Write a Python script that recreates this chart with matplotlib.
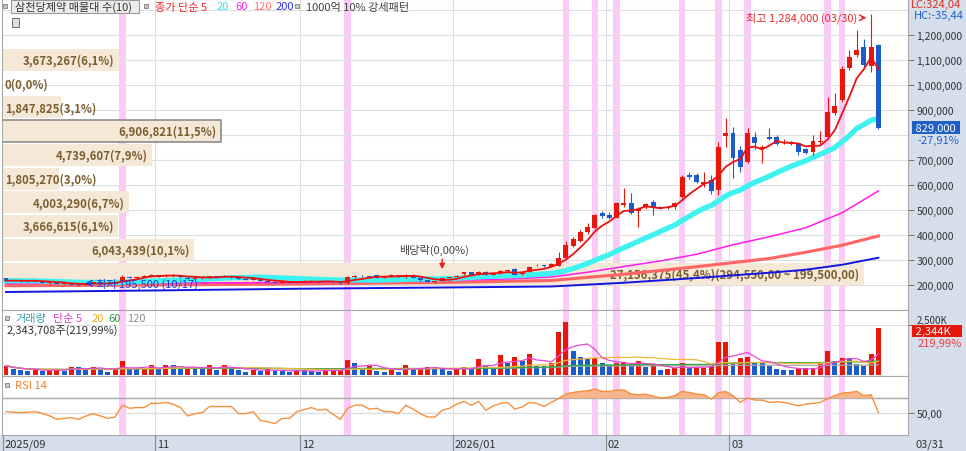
import matplotlib
matplotlib.use("Agg")
import matplotlib.pyplot as plt
from matplotlib.patches import Rectangle
from matplotlib.ticker import FuncFormatter
import numpy as np
import pandas as pd

plt.rcParams['font.family'] = ['Noto Sans CJK KR', 'DejaVu Sans']
plt.rcParams['axes.unicode_minus'] = False

# daily candles, thousand won (2025/09/26 .. 2026/03/31)
open_k = [226, 219, 218, 217, 214, 216, 207, 209, 204, 206,
          201, 199.5, 205, 210, 207, 205, 210, 233, 229, 233,
          235, 239, 234, 240, 236, 229, 224, 228, 230, 234,
          231, 236, 230, 224, 221, 224, 216, 212, 209, 212,
          208, 213, 216, 214, 211, 213, 210, 206, 231, 236,
          234, 238, 228, 232, 236, 230, 240, 227, 219, 211,
          216, 228, 232, 243, 251, 240, 252, 241, 247, 256,
          263, 243, 253, 281, 279, 273, 276, 308, 355, 377,
          410, 428, 488, 480, 468, 518, 527, 494, 513, 533,
          513, 507, 510, 550, 640, 640, 605, 620, 580, 795,
          807, 740, 693, 791, 745, 791, 791, 768, 764, 767,
          743, 733, 770, 790, 887, 940, 1067, 1120, 1150, 1075,
          1160]
high_k = [229, 221, 220, 219, 219, 217, 211, 210, 208, 207,
          203, 206, 212, 213, 210, 211, 238, 237, 236, 238,
          242, 241, 242, 243, 238, 232, 230, 232, 236, 236,
          238, 237, 231, 226, 226, 225, 218, 214, 214, 213,
          215, 218, 218, 215, 216, 215, 212, 234, 240, 238,
          236, 241, 234, 244, 240, 242, 242, 229, 221, 215,
          229, 233, 238, 253, 253, 255, 254, 246, 259, 260,
          266, 252, 276, 284, 281, 286, 330, 376, 390, 418,
          448, 485, 496, 492, 532, 588, 568, 510, 526, 540,
          516, 515, 532, 640, 652, 648, 653, 640, 770, 867,
          830, 755, 828, 810, 760, 828, 800, 785, 775, 770,
          748, 800, 815, 953, 968, 1075, 1140, 1220, 1183, 1284,
          1165]
low_k = [214, 214, 213, 212, 211, 208, 203, 203, 202, 199,
         195.5, 198, 203, 205, 203, 204, 208, 226, 227, 230,
         232, 232, 232, 233, 228, 222, 222, 224, 228, 229,
         230, 228, 222, 219, 219, 214, 210, 207, 207, 206,
         207, 211, 212, 209, 210, 209, 204, 205, 228, 232,
         230, 226, 226, 230, 233, 228, 226, 216, 210, 209,
         215, 226, 230, 241, 238, 239, 238, 238, 245, 253,
         238, 241, 251, 276, 272, 271, 274, 305, 350, 372,
         405, 425, 468, 465, 466, 512, 485, 433, 505, 480,
         505, 503, 505, 546, 625, 608, 590, 565, 560, 753,
         628, 650, 688, 745, 689, 780, 760, 762, 758, 720,
         725, 720, 765, 785, 880, 930, 1060, 1110, 1070, 1053,
         823]
close_k = [216, 217, 215, 214, 217, 209, 209, 204, 206, 201,
           199.5, 205, 210, 207, 205, 210, 233, 229, 233, 235,
           239, 234, 240, 236, 230, 224, 228, 230, 234, 231,
           236, 230, 224, 221, 224, 216, 212, 209, 212, 208,
           213, 216, 214, 211, 214, 210, 206, 231, 236, 234,
           232, 228, 232, 239, 238, 240, 228, 218, 212, 213,
           226, 231, 236, 251, 241, 253, 241, 244, 257, 258,
           241, 249, 273, 278, 276, 283, 308, 358, 385, 412,
           430, 480, 474, 469, 527, 527, 489, 503, 522, 508,
           508, 512, 528, 633, 632, 613, 612, 575, 753, 807,
           707, 673, 807, 767, 753, 783, 764, 773, 769, 733,
           729, 775, 776, 893, 916, 1063, 1113, 1140, 1080, 1150,
           829]
volume_k = [466, 299, 249, 183, 266, 216, 266, 299, 216, 416,
            382, 249, 416, 299, 166, 333, 682, 299, 290, 305,
            516, 299, 499, 490, 299, 349, 340, 335, 516, 249,
            516, 283, 266, 166, 266, 216, 299, 216, 183, 133,
            249, 240, 216, 166, 249, 255, 266, 748, 615, 349,
            466, 216, 166, 333, 166, 516, 299, 305, 416, 333,
            283, 216, 299, 416, 333, 782, 516, 333, 998, 599,
            915, 715, 1048, 466, 460, 582, 2162, 2661, 1214, 881,
            798, 848, 582, 499, 582, 632, 549, 715, 382, 499,
            249, 299, 333, 599, 333, 340, 349, 466, 1630, 1640,
            632, 832, 881, 582, 575, 466, 299, 266, 260, 333,
            340, 345, 549, 1181, 715, 832, 825, 549, 466, 1065.37,
            2343.708]
rsi14 = [51.4, 50.5, 50.0, 50.5, 51.4, 49.0, 45.5, 40.5, 42.0, 42.9,
         40.5, 45.2, 48.6, 45.2, 41.9, 43.8, 60.4, 56.1, 57.1, 57.1,
         63.3, 62.9, 64.3, 61.9, 57.1, 45.2, 48.6, 50.0, 58.6, 58.6,
         58.6, 58.6, 48.6, 48.6, 51.4, 39.0, 37.1, 34.7, 41.9, 41.9,
         51.4, 54.3, 57.1, 53.3, 54.8, 47.6, 40.5, 56.1, 60.4, 60.4,
         54.8, 56.1, 51.4, 51.4, 48.6, 60.4, 54.8, 48.6, 43.8, 43.8,
         53.3, 56.1, 61.9, 65.7, 60.4, 65.7, 53.3, 59.5, 62.9, 64.3,
         54.8, 58.1, 64.3, 62.9, 58.6, 64.3, 69.8, 76.0, 78.3, 79.8,
         80.7, 83.1, 79.8, 79.8, 81.7, 81.7, 76.0, 75.2, 76.0, 73.3,
         70.5, 71.4, 73.8, 79.8, 78.3, 76.0, 75.2, 69.0, 77.9, 79.8,
         73.8, 64.3, 70.5, 67.6, 67.6, 64.3, 65.2, 64.3, 61.9, 59.5,
         61.9, 62.9, 64.3, 69.8, 73.8, 77.4, 78.3, 79.8, 73.8, 75.2,
         50.0]

# long moving averages (index, thousand won)
ma60_at = [0, 20, 40, 60, 70, 75, 80, 85, 90, 95, 100, 105, 110, 115, 120]
ma60_k = [205, 207, 209, 216, 224, 231, 250, 273, 295, 322, 360, 392, 428, 488, 575]
ma120_at = [0, 20, 40, 60, 75, 85, 95, 105, 110, 115, 120]
ma120_k = [196, 199, 203, 209, 217, 242, 272, 305, 330, 358, 395]
ma200_at = [0, 20, 40, 60, 75, 85, 95, 105, 110, 115, 120]
ma200_k = [171, 177, 184, 189, 193, 208, 227, 248, 260, 280, 308]

month_idx = [0, 21, 41, 62, 83, 100]
month_lbl = ['2025/09', '11', '12', '2026/01', '02', '03']
last_date = '03/31'
hi_date, lo_date = '03/30', '10/17'
div_idx = 60
signal_idx = [16, 47, 77, 81, 84, 93, 98, 102, 113, 115]

# 매물대 (volume profile), bottom bin first
profile_vol = [27156375, 6043439, 3666615, 4003290, 1805270,
               4739607, 6906821, 1847825, 0, 3673267]
profile_lo, profile_hi = 199500, 1150000

W, H = 966, 452
RED = '#e8170c'
BLUE = '#1a5ccc'
PINK = '#fccaf7'
GRID = '#dedede'
STRIP = '#d5dfec'
BEIGE = '#f5e8d6'
BROWN = '#7b5e30'

o = np.array(open_k) * 1000
h = np.array(high_k) * 1000
l = np.array(low_k) * 1000
c = np.array(close_k) * 1000
vol = np.array(volume_k) * 1000
n = len(c)
x = np.arange(n)
xlim = (-0.55, 124.07)

fig = plt.figure(figsize=(W / 100, H / 100), dpi=100)


def box(x0, y0, x1, y1):
    return [x0 / W, 1 - y1 / H, (x1 - x0) / W, (y1 - y0) / H]


def ftext(px, py, s, **kw):
    kw.setdefault('va', 'center')
    kw.setdefault('fontsize', 8)
    fig.text(px / W, 1 - py / H, s, **kw)


def fsquare(px, py, s=4):
    fig.add_artist(Rectangle(((px - s / 2) / W, 1 - (py + s / 2) / H), s / W, s / H,
                             transform=fig.transFigure, fc='#c8c8c8', ec='#808080', lw=0.6))


# strips
fig.add_artist(Rectangle((908 / W, 0), 58 / W, 1, transform=fig.transFigure,
                         fc=STRIP, ec='none', zorder=-1))
fig.add_artist(Rectangle((0, 0), 1, 16 / H, transform=fig.transFigure,
                         fc=STRIP, ec='none', zorder=-1))

ax_p = fig.add_axes(box(2, 0, 908, 311))
ax_v = fig.add_axes(box(2, 311, 908, 377), sharex=ax_p)
ax_r = fig.add_axes(box(2, 377, 908, 436), sharex=ax_p)
ax_d = fig.add_axes(box(2, 436, 908, 452), sharex=ax_p)
ax_d.set_axis_off()

for ax in (ax_p, ax_v, ax_r):
    ax.set_xlim(*xlim)
    for s in ax.spines.values():
        s.set_color('#a8a8a8')
        s.set_linewidth(0.8)
    ax.tick_params(axis='x', bottom=False, labelbottom=False)
    ax.yaxis.tick_right()
    ax.tick_params(axis='y', length=4, width=0.7, color='#707070', pad=2,
                   labelsize=7.5, labelcolor='#333333')
    for b in signal_idx:
        ax.axvspan(b - 0.45, b + 0.45, color=PINK, lw=0, zorder=0)
    for m in month_idx[1:]:
        ax.axvline(m - 0.5, color=GRID, lw=0.8, zorder=0.5)

# ---- price panel
ax_p.set_ylim(99000, 1343000)
ax_p.set_yticks([v * 1000 for v in range(200, 1300, 100) if v != 800])
ax_p.yaxis.set_major_formatter(FuncFormatter(lambda v, p: f'{v:,.0f}'))
for v in range(200, 1400, 100):
    ax_p.axhline(v * 1000, color=GRID, lw=0.8, zorder=0.5)

step = (profile_hi - profile_lo) / len(profile_vol)
total = sum(profile_vol)
vmax = max(profile_vol)
span = xlim[1] - xlim[0]
cur_bin = int((c[-1] - profile_lo) // step)
for k, v in enumerate(profile_vol):
    lo = profile_lo + k * step
    w = v / vmax * 0.951 * span
    ax_p.barh(lo + step * 0.01, w, height=step * 0.92, left=xlim[0], align='edge',
              color=BEIGE, ec='#8c8c8c' if k == cur_bin else 'none', lw=1.2, zorder=1)
    lab = f'{v:,}({v / total * 100:.1f}%)'
    if k == 0:
        lab += f'({lo + step:,.2f} ~ {lo:,.2f})'
    lab = lab.replace('.', ',')
    ymid = lo + step * 0.47
    if w / span * 906 < 95:
        ax_p.annotate(lab, xy=(xlim[0], ymid), xytext=(2, 0), textcoords='offset points',
                      ha='left', va='center', fontsize=8.2, fontweight='bold', color=BROWN, zorder=1.5)
    else:
        ax_p.annotate(lab, xy=(xlim[0] + w, ymid), xytext=(-3, 0), textcoords='offset points',
                      ha='right', va='center', fontsize=8.2, fontweight='bold', color=BROWN, zorder=1.5)

cs = pd.Series(c)
ax_p.plot(np.array(ma200_at), np.array(ma200_k) * 1000, color='#1414e0', lw=1.4, zorder=2)
ax_p.plot(np.array(ma120_at), np.array(ma120_k) * 1000, color='#ff6464', lw=2.2, zorder=2)
ax_p.plot(np.array(ma60_at), np.array(ma60_k) * 1000, color='#ff1cf0', lw=1.1, zorder=2)
ax_p.plot(x, cs.rolling(20, min_periods=1).mean(), color='#3ef2f0', lw=3.8, zorder=2.5)
ax_p.plot(x, cs.rolling(5, min_periods=1).mean(), color='#ee1010', lw=1.3, zorder=3.5)

up = c >= o
ccol = np.where(up, RED, BLUE)
ax_p.vlines(x, l, h, colors=ccol, lw=0.8, zorder=3)
body = np.maximum(np.abs(c - o), 2500)
ax_p.bar(x, body, bottom=np.minimum(o, c), width=0.68, color=ccol, lw=0, zorder=3.2)

# high / low / dividend notes
hi_i = int(np.argmax(h))
lo_i = int(np.argmin(l))
ax_p.annotate('', xy=(hi_i - 0.25, h[hi_i] - 16000), xytext=(hi_i - 1.7, h[hi_i] - 16000),
              arrowprops=dict(arrowstyle='->', color='#e82828', lw=1), zorder=5)
ax_p.text(hi_i - 1.9, h[hi_i] - 16000, f'최고 {h[hi_i]:,.0f} ({hi_date})', ha='right', va='center',
          fontsize=8, color='#e82828', zorder=5)
ax_p.annotate('', xy=(lo_i + 0.5, l[lo_i] + 10000), xytext=(lo_i + 2.2, l[lo_i] + 10000),
              arrowprops=dict(arrowstyle='->', color='#2438d8', lw=1), zorder=5)
ax_p.text(lo_i + 2.4, l[lo_i] + 10000, f'최저 {l[lo_i]:,.0f} ({lo_date})', ha='left', va='center',
          fontsize=8, color='#2438d8', zorder=5)
ax_p.annotate('', xy=(div_idx, h[div_idx] + 22000), xytext=(div_idx, h[div_idx] + 85000),
              arrowprops=dict(arrowstyle='-|>', color='#e82020', lw=1, mutation_scale=8), zorder=5)
ax_p.text(div_idx - 1.1, h[div_idx] + 114000, '배당락(0,00%)', ha='center', va='center',
          fontsize=8, color='#444444', zorder=5)

chg = (c[-1] / c[-2] - 1) * 100
ax_p.text(1.006, c[-1], f' {c[-1]:,.0f} ', transform=ax_p.get_yaxis_transform(), ha='left', va='center',
          fontsize=8, color='white', clip_on=False, zorder=6,
          bbox=dict(boxstyle='square,pad=0.1', fc='#1f5fc8', ec='none'))
ax_p.annotate(f'{chg:.2f}%'.replace('.', ','), xy=(1.01, c[-1]), xycoords=ax_p.get_yaxis_transform(),
              xytext=(0, -9), textcoords='offset points', ha='left', va='center',
              fontsize=8, color='#2060d0', annotation_clip=False)

# ---- volume panel
ax_v.set_ylim(-50000, 3243000)
ax_v.set_yticks([2500000])
ax_v.yaxis.set_major_formatter(FuncFormatter(lambda v, p: f'{v / 1000:,.0f}K'))
for lbl in ax_v.get_yticklabels():
    lbl.set_va('bottom')
    lbl.set_fontsize(7)
ax_v.axhline(2500000, color=GRID, lw=0.8, zorder=0.5)
vcol = [RED] + [RED if vol[i] > vol[i - 1] else BLUE for i in range(1, n)]
ax_v.bar(x, vol, width=0.68, color=vcol, lw=0, zorder=2)
vs = pd.Series(vol)
ax_v.plot(x, vs.rolling(120, min_periods=1).mean(), color='#a8a8a8', lw=0.9, zorder=3)
ax_v.plot(x, vs.rolling(60, min_periods=1).mean(), color='#38a848', lw=1.0, zorder=3)
ax_v.plot(x, vs.rolling(20, min_periods=1).mean(), color='#f0b838', lw=0.9, zorder=3)
ax_v.plot(x, vs.rolling(5, min_periods=1).mean(), color='#e848d8', lw=0.9, zorder=3)
vpct = vol[-1] / vol[-2] * 100
ax_v.annotate(f' {vol[-1] / 1000:,.0f}K    ', xy=(1.006, vol[-1]), xycoords=ax_v.get_yaxis_transform(),
              xytext=(0, -2), textcoords='offset points', ha='left', va='center',
              fontsize=8, color='white', annotation_clip=False, zorder=6,
              bbox=dict(boxstyle='square,pad=0.1', fc='#e8170c', ec='none'))
ax_v.annotate(f'{vpct:.2f}%'.replace('.', ','), xy=(1.01, vol[-1]), xycoords=ax_v.get_yaxis_transform(),
              xytext=(0, -11), textcoords='offset points', ha='left', va='center',
              fontsize=8, color='#e84040', annotation_clip=False)

# ---- RSI panel
r = np.array(rsi14)
ax_r.set_ylim(18.6, 101.4)
ax_r.set_yticks([50])
ax_r.yaxis.set_major_formatter(FuncFormatter(lambda v, p: f'{v:.2f}'.replace('.', ',')))
ax_r.axhline(50, color=GRID, lw=1.0, zorder=0.5)
ax_r.axhline(70, color='#a8a8a8', lw=1.0, zorder=0.6)
ax_r.fill_between(x, r, 70, where=r > 70, interpolate=True, color='#f6b58c', lw=0, zorder=1)
ax_r.plot(x, r, color='#f7903c', lw=1.0, zorder=2)

# ---- date strip
ax_d.set_ylim(0, 1)
for m, lab in zip(month_idx, month_lbl):
    xm = m - 0.5 if m else -0.45
    ax_d.vlines(xm, 0, 1, color='#8a8a8a', lw=0.8)
    ax_d.text(xm + 0.25, 0.45, lab, ha='left', va='center', fontsize=8, color='#333333')
ax_d.text(1.008, 0.45, last_date, transform=ax_d.transAxes, ha='left', va='center',
          fontsize=8, color='#333333', clip_on=False)

# ---- legends and header texts
fsquare(5, 7)
fig.add_artist(Rectangle((11 / W, 1 - 14 / H), 128 / W, 13 / H, transform=fig.transFigure,
                         fc='#ececec', ec='#9a9a9a', lw=0.8))
ftext(15, 7.5, '삼천당제약 매물대 수(10)', color='#333333')
fsquare(146, 7)
ftext(155, 7.5, '종가 단순 5', color='#f02828')
ftext(217, 7.5, '20', color='#30e8f0')
ftext(235, 7.5, '60', color='#ff20f0')
ftext(253, 7.5, '120', color='#ff6c6c')
ftext(276, 7.5, '200', color='#3030f0')
fsquare(297, 7)
ftext(306, 7.5, '1000억 10% 강세패턴', color='#444444')
fig.add_artist(Rectangle((12 / W, 1 - 28 / H), 7 / W, 9 / H, transform=fig.transFigure,
                         fc='#e0e0e0', ec='#707070', lw=0.7))

fsquare(7, 319)
ftext(15, 319, '거래량', color='#3aa0a8')
ftext(53, 319, '단순 5', color='#e040c8')
ftext(92, 319, '20', color='#f0b020')
ftext(108, 319, '60', color='#30a040')
ftext(127, 319, '120', color='#909090')
ftext(7, 331, f'{vol[-1]:,.0f}주({vpct:.2f}%)'.replace('.', ','), color='#333333')

fsquare(7, 386)
ftext(15, 386, 'RSI 14', color='#f08030')

lc = (c[-1] / l.min() - 1) * 100
hc = (c[-1] / h.max() - 1) * 100
ftext(911, 5, f'LC:{lc:.2f}'.replace('.', ','), color='#e03020')
ftext(914, 16, f'HC:{hc:.2f}'.replace('.', ','), color='#2060d0')

fig.savefig('out.png', dpi=100)
